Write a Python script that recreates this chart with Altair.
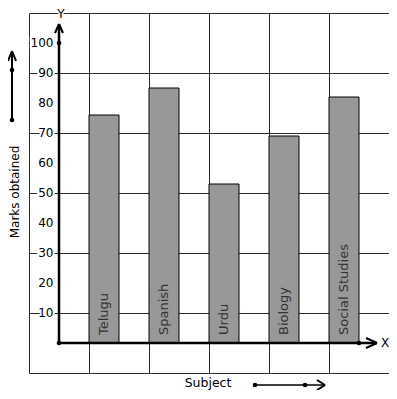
import altair as alt
import pandas as pd

subjects = ["Telugu", "Spanish", "Urdu", "Biology", "Social Studies"]
marks = [76, 85, 53, 69, 82]
y_ticks = [10, 20, 30, 40, 50, 60, 70, 80, 90, 100]
x_grid = list(range(-1, 12))
y_grid = list(range(-10, 111, 10))

FONT = "DejaVu Sans"
W, H = 360, 360

df = pd.DataFrame({"subject": subjects, "marks": marks})
df["x0"] = [1 + 2 * i for i in range(len(subjects))]
df["x1"] = df["x0"] + 1
df["xc"] = df["x0"] + 0.5

xs = alt.Scale(domain=[-1, 11], nice=False, zero=False)
ys = alt.Scale(domain=[-10, 110], nice=False, zero=False)

bars = alt.Chart(df).mark_bar(color="#989898", stroke="black", strokeWidth=1).encode(
    x=alt.X("x0:Q", scale=xs,
            axis=alt.Axis(values=x_grid, grid=True, labels=False, ticks=False, domain=False,
                          title=None, gridColor="#2b2b2b", gridOpacity=1, gridWidth=1)),
    x2="x1:Q",
    y=alt.Y("marks:Q", scale=ys,
            axis=alt.Axis(values=y_grid, grid=True, labels=False, ticks=False, domain=False,
                          title=None, gridColor="#2b2b2b", gridOpacity=1, gridWidth=1)),
    y2=alt.datum(0),
)

bar_text = alt.Chart(df).mark_text(angle=270, align="left", baseline="middle",
                                   font=FONT, fontSize=13, color="#333333").encode(
    x=alt.X("xc:Q", scale=xs), y=alt.value(322), text="subject:N")

tdf = pd.DataFrame({"v": y_ticks})
tdf["lab"] = tdf["v"].astype(str)
halo = alt.Chart(tdf).mark_text(align="right", baseline="middle", font=FONT, fontSize=12,
                                stroke="white", strokeWidth=4, color="white").encode(
    x=alt.value(24.5), y=alt.Y("v:Q", scale=ys), text="lab:N")
ylab = alt.Chart(tdf).mark_text(align="right", baseline="middle", font=FONT, fontSize=12,
                                color="black").encode(
    x=alt.value(24.5), y=alt.Y("v:Q", scale=ys), text="lab:N")

one = pd.DataFrame({"a": [0]})


def seg(x1, y1, x2, y2, w=2):
    return alt.Chart(one).mark_rule(color="black", strokeWidth=w).encode(
        x=alt.value(x1), y=alt.value(y1), x2=alt.value(x2), y2=alt.value(y2))


def dot(x, y):
    return alt.Chart(one).mark_circle(color="black", opacity=1, size=22).encode(
        x=alt.value(x), y=alt.value(y))


def txt(s, x, y, size=13, angle=0, hal=False):
    layers = []
    if hal:
        layers.append(alt.Chart(one).mark_text(text=s, font=FONT, fontSize=size, angle=angle,
                                               color="white", stroke="white", strokeWidth=3,
                                               align="center", baseline="middle").encode(
            x=alt.value(x), y=alt.value(y)))
    layers.append(alt.Chart(one).mark_text(text=s, font=FONT, fontSize=size, angle=angle,
                                           color="black", align="center",
                                           baseline="middle").encode(
        x=alt.value(x), y=alt.value(y)))
    return layers


deco = [
    # main axes
    seg(30, 330, 30, 11, 2.5), seg(30, 330, 348, 330, 2.5),
    seg(30, 11, 26, 20), seg(30, 11, 34, 20),
    seg(348, 330, 337, 325), seg(348, 330, 337, 335),
    dot(30, 330), dot(30, 30), dot(330, 330),
    # left arrow
    seg(-17, 107, -17, 38, 2), seg(-17, 38, -21, 48), seg(-17, 38, -13, 48),
    dot(-17, 107), dot(-17, 57),
    # bottom arrow
    seg(226, 372, 296, 372, 1.5), seg(296, 372, 288, 367), seg(296, 372, 288, 377),
    dot(226, 372), dot(276, 372),
]
texts = (txt("Y", 32, 1, 12, hal=True) + txt("X", 356, 330, 12, hal=True)
         + txt("Marks obtained", -14, 179, 12, angle=270) + txt("Subject", 179, 370, 12.5))

chart = alt.layer(bars, bar_text, halo, ylab, *deco, *texts).properties(
    width=W, height=H,
    autosize=alt.AutoSizeParams(type="none"),
    padding={"left": 21, "top": 5, "right": 0, "bottom": 17},
).configure_view(stroke=None)

chart.save("out.html", embed_options={"renderer": "svg", "actions": False})
